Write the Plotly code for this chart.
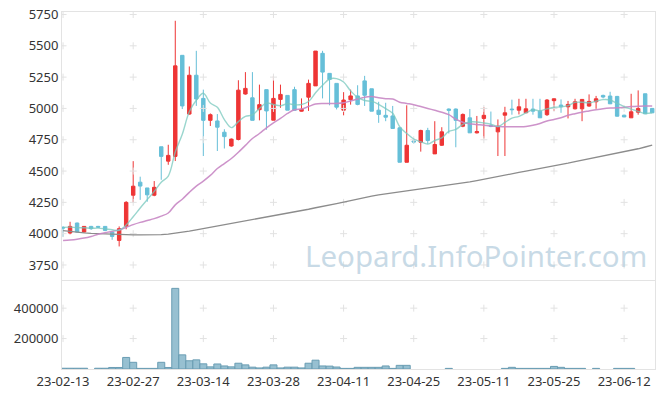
import plotly.graph_objects as go

# ---------------- data ----------------
dates = [
    "23-02-13", "23-02-14", "23-02-15", "23-02-16", "23-02-17", "23-02-20", "23-02-21", "23-02-22", "23-02-23", "23-02-24",
    "23-02-27", "23-02-28", "23-03-02", "23-03-03", "23-03-06", "23-03-07", "23-03-08", "23-03-09", "23-03-10", "23-03-13",
    "23-03-14", "23-03-15", "23-03-16", "23-03-17", "23-03-20", "23-03-21", "23-03-22", "23-03-23", "23-03-24", "23-03-27",
    "23-03-28", "23-03-29", "23-03-30", "23-03-31", "23-04-03", "23-04-04", "23-04-05", "23-04-06", "23-04-07", "23-04-10",
    "23-04-11", "23-04-12", "23-04-13", "23-04-14", "23-04-17", "23-04-18", "23-04-19", "23-04-20", "23-04-21", "23-04-24",
    "23-04-25", "23-04-26", "23-04-27", "23-04-28", "23-05-02", "23-05-03", "23-05-04", "23-05-08", "23-05-09", "23-05-10",
    "23-05-11", "23-05-12", "23-05-15", "23-05-16", "23-05-17", "23-05-18", "23-05-19", "23-05-22", "23-05-23", "23-05-24",
    "23-05-25", "23-05-26", "23-05-30", "23-05-31", "23-06-01", "23-06-02", "23-06-05", "23-06-07", "23-06-08", "23-06-09",
    "23-06-12", "23-06-13", "23-06-14", "23-06-15", "23-06-16",
]

open_ = [4050, 4005, 4085, 4013, 4058, 4058, 4058, 4013, 3946, 4060,
         4307, 4411, 4365, 4307, 4694, 4579, 4617, 5424, 4955, 5265,
         5080, 4905, 4900, 4810, 4700, 4752, 5115, 5085, 4990, 5150,
         4906, 5072, 5104, 5150, 4978, 5090, 5180, 5440, 5280, 5200,
         4986, 5070, 5100, 5220, 5157, 4986, 4945, 4940, 4845, 4570,
         4740, 4730, 4824, 4637, 4706, 4995, 4995, 4858, 4925, 4805,
         4920, 4865, 4813, 4946, 4995, 4986, 4965, 4995, 4978, 4950,
         5062, 5027, 5013, 4997, 4997, 5019, 5053, 5104, 5099, 5096,
         4946, 4925, 4970, 5117, 5000]
high = [4060, 4095, 4088, 4060, 4062, 4062, 4060, 4015, 4058, 4260,
        4579, 4455, 4365, 4420, 4694, 4710, 5700, 5424, 5335, 5460,
        5150, 4960, 4955, 4834, 4760, 5225, 5290, 5290, 5190, 5150,
        5260, 5190, 5104, 5173, 5080, 5230, 5458, 5460, 5280, 5200,
        5130, 5150, 5185, 5260, 5157, 5053, 5045, 5020, 4850, 5025,
        4760, 4830, 4845, 4898, 4850, 5000, 5000, 4960, 4995, 4940,
        5010, 4975, 4912, 5013, 5070, 5077, 5077, 5077, 5077, 5075,
        5080, 5072, 5060, 5077, 5075, 5112, 5100, 5110, 5133, 5100,
        4950, 5117, 5144, 5117, 5000]
low = [3975, 3995, 4010, 4010, 4030, 4045, 4020, 3951, 3898, 4035,
       4245, 4270, 4255, 4299, 4430, 4550, 4580, 4995, 4950, 5020,
       4620, 4860, 4660, 4680, 4695, 4745, 5110, 4905, 4905, 4830,
       4906, 5005, 4986, 4985, 4975, 4980, 5180, 5080, 5025, 4992,
       4945, 5030, 5025, 5020, 4978, 4885, 4898, 4840, 4570, 4570,
       4720, 4655, 4717, 4637, 4700, 4800, 4690, 4850, 4805, 4800,
       4760, 4850, 4620, 4620, 4950, 4952, 4965, 4950, 4925, 4940,
       4980, 4965, 4920, 4992, 4898, 5013, 4997, 5080, 5035, 4935,
       4930, 4925, 4950, 4955, 4965]
close = [4045, 4058, 4013, 4058, 4040, 4052, 4026, 3978, 4040, 4250,
         4379, 4380, 4310, 4370, 4617, 4625, 5340, 5020, 5265, 5075,
         4905, 4950, 4850, 4775, 4755, 5146, 5160, 4905, 5030, 4980,
         5080, 5112, 4986, 4985, 4994, 5200, 5458, 5290, 5232, 5010,
         5067, 5100, 5032, 5105, 4978, 4952, 4930, 4840, 4570, 4706,
         4732, 4824, 4744, 4712, 4813, 4985, 4905, 4952, 4805, 4815,
         4945, 4858, 4858, 4965, 4990, 5013, 4997, 4978, 4925, 5067,
         5077, 5013, 5032, 5053, 5072, 5056, 5077, 5091, 5037, 4938,
         4932, 4973, 5000, 4957, 4965]

volume = [5000, 5000, 5000, 5000, None, 5000, 5000, 10000, 10000, 76000,
          44000, 4000, 4000, 4000, 44000, 10000, 530000, 93000, 54000, 60000,
          34000, 14000, 33000, 20000, 14000, 38000, 27000, 12000, 7000, 12000,
          27000, 7000, 12000, 12000, 7000, 38000, 58000, 20000, 19000, 13000,
          4000, 4000, 11000, 11000, 11000, 11000, 20000, 4000, 24000, 24000,
          None, None, None, None, None, 4000, None, None, None, None,
          None, None, None, 4000, 11000, 4000, 4000, 4000, 4000, 4000,
          17000, 11000, 4000, 4000, 4000, None, 4000, None, None, 4000,
          4000, 4000, None, None, None]

ma5 = [4050, 4052, 4048, 4047, 4043, 4044, 4038, 4031, 4027, 4069,
       4135, 4205, 4272, 4338, 4411, 4460, 4652, 4794, 4973, 5065,
       5121, 5043, 5009, 4911, 4847, 4895, 4937, 4948, 4999, 5044,
       5031, 5021, 5038, 5029, 5031, 5055, 5125, 5185, 5235, 5238,
       5211, 5140, 5088, 5063, 5056, 5033, 4999, 4961, 4854, 4800,
       4756, 4734, 4715, 4744, 4765, 4816, 4832, 4873, 4892, 4892,
       4884, 4875, 4856, 4888, 4923, 4937, 4965, 4989, 4981, 4996,
       5009, 5012, 5023, 5048, 5049, 5045, 5058, 5070, 5067, 5040,
       5015, 4994, 4976, 4960, 4965]

ma20 = [3946, 3950, 3956, 3965, 3978, 3995, 4008, 4018, 4030, 4050,
        4072, 4090, 4105, 4120, 4140, 4165, 4230, 4275, 4330, 4380,
        4420, 4465, 4520, 4560, 4600, 4650, 4705, 4760, 4800, 4845,
        4885, 4920, 4960, 4990, 4995, 5015, 5035, 5040, 5040, 5040,
        5045, 5060, 5075, 5090, 5095, 5085, 5078, 5075, 5050, 5040,
        5030, 5015, 5000, 4985, 4970, 4950, 4915, 4890, 4878, 4872,
        4865, 4860, 4856, 4853, 4853, 4853, 4855, 4865, 4880, 4900,
        4912, 4925, 4945, 4958, 4970, 4980, 4990, 4998, 5003, 5005,
        5010, 5015, 5018, 5020, 5020]

ma120 = [4025, 4018, 4012, 4007, 4003, 4000, 3997, 3994, 3992, 3991,
         3990, 3990, 3990, 3991, 3993, 3996, 4002, 4010, 4020, 4030,
         4040, 4050, 4065, 4075, 4083, 4092, 4100, 4110, 4120, 4130,
         4142, 4152, 4163, 4173, 4183, 4195, 4207, 4220, 4230, 4240,
         4252, 4265, 4277, 4290, 4300, 4310, 4318, 4326, 4334, 4342,
         4350, 4357, 4363, 4369, 4376, 4384, 4393, 4403, 4413, 4423,
         4435, 4447, 4459, 4469, 4479, 4489, 4499, 4509, 4519, 4529,
         4540, 4552, 4563, 4575, 4586, 4597, 4608, 4619, 4630, 4642,
         4654, 4666, 4678, 4692, 4707]

price_ticks = [3750, 4000, 4250, 4500, 4750, 5000, 5250, 5500, 5750]
volume_ticks = [200000, 400000]
watermark = "Leopard.InfoPointer.com"

# ---------------- figure ----------------
x = list(range(len(dates)))
tick_idx = list(range(0, len(dates), 10))
tick_txt = [dates[i] for i in tick_idx]

UP = "#ee3535"
DOWN = "#66bfd8"
LINE = "#e3e3e3"
FONT = "Noto Sans"
CROSS = dict(symbol="cross-thin", size=5, line=dict(width=1, color="#e2e2e2"))

fig = go.Figure()

# grid crosses
cx, cy = [], []
for t in tick_idx:
    for p in price_ticks:
        cx.append(t); cy.append(p)
fig.add_trace(go.Scatter(x=cx, y=cy, mode="markers", xaxis="x2", yaxis="y",
                         marker=CROSS, hoverinfo="skip", showlegend=False))
vx, vy = [], []
for t in tick_idx:
    for v in volume_ticks:
        vx.append(t); vy.append(v)
fig.add_trace(go.Scatter(x=vx, y=vy, mode="markers", xaxis="x", yaxis="y2",
                         marker=CROSS, hoverinfo="skip", showlegend=False))

fig.add_trace(go.Scatter(x=x, y=ma120, mode="lines", xaxis="x2", yaxis="y",
                         line=dict(color="#8c8c8c", width=1.3), hoverinfo="skip", showlegend=False))
fig.add_trace(go.Scatter(x=x, y=ma20, mode="lines", xaxis="x2", yaxis="y",
                         line=dict(color="rgba(200,135,196,0.9)", width=1.5, shape="spline"),
                         hoverinfo="skip", showlegend=False))

fig.add_trace(go.Candlestick(
    x=x, open=open_, high=high, low=low, close=close, xaxis="x2", yaxis="y",
    increasing=dict(line=dict(color=UP, width=1), fillcolor=UP),
    decreasing=dict(line=dict(color=DOWN, width=1), fillcolor=DOWN),
    whiskerwidth=0, hoverinfo="skip", showlegend=False))

fig.add_trace(go.Scatter(x=x, y=ma5, mode="lines", xaxis="x2", yaxis="y",
                         line=dict(color="rgba(120,200,190,0.75)", width=1.4, shape="spline"),
                         hoverinfo="skip", showlegend=False))

fig.add_trace(go.Bar(x=x, y=volume, xaxis="x", yaxis="y2", width=1,
                     marker=dict(color="rgba(140,185,204,0.9)", line=dict(color="#6a9db3", width=1)),
                     hoverinfo="skip", showlegend=False))

XR = [-0.15, 84.4]
split = 0.2493
common = dict(showgrid=False, zeroline=False, showline=True, linecolor=LINE, linewidth=1,
              ticks="", automargin=False)
fig.update_layout(
    template="none",
    width=665, height=398,
    margin=dict(l=62, r=10, t=12, b=29, pad=0),
    paper_bgcolor="white", plot_bgcolor="white",
    font=dict(family=FONT, size=12, color="#333333"),
    bargap=0, boxgap=0.3, showlegend=False, hovermode=False,
    xaxis=dict(domain=[0, 1], anchor="y2", range=XR, tickmode="array", tickvals=tick_idx, ticktext=tick_txt,
               mirror=False, tickfont=dict(size=13, color="#333333"),
               rangeslider=dict(visible=False), **common),
    xaxis2=dict(domain=[0, 1], anchor="y", range=XR, matches="x", showticklabels=False,
                mirror=True, rangeslider=dict(visible=False), **common),
    yaxis=dict(domain=[split, 1], anchor="x2", range=[3630, 5770], tickmode="array", tickvals=price_ticks,
               mirror=True, tickfont=dict(size=13, color="#333333"), **common),
    yaxis2=dict(domain=[0, split], anchor="x", range=[0, 585000], tickmode="array", tickvals=volume_ticks,
                tickformat="d", mirror=True, tickfont=dict(size=13, color="#333333"), **common),
    annotations=[dict(text=watermark, xref="paper", yref="paper", x=0.99, y=0.319, xanchor="right",
                      yanchor="middle", showarrow=False,
                      font=dict(family=FONT, size=29.5, color="rgba(190,212,226,0.85)"))],
)

fig.write_html("out.html", config={"displayModeBar": False, "staticPlot": True},
               post_script="document.body.style.margin='0';document.body.style.overflow='hidden';")
